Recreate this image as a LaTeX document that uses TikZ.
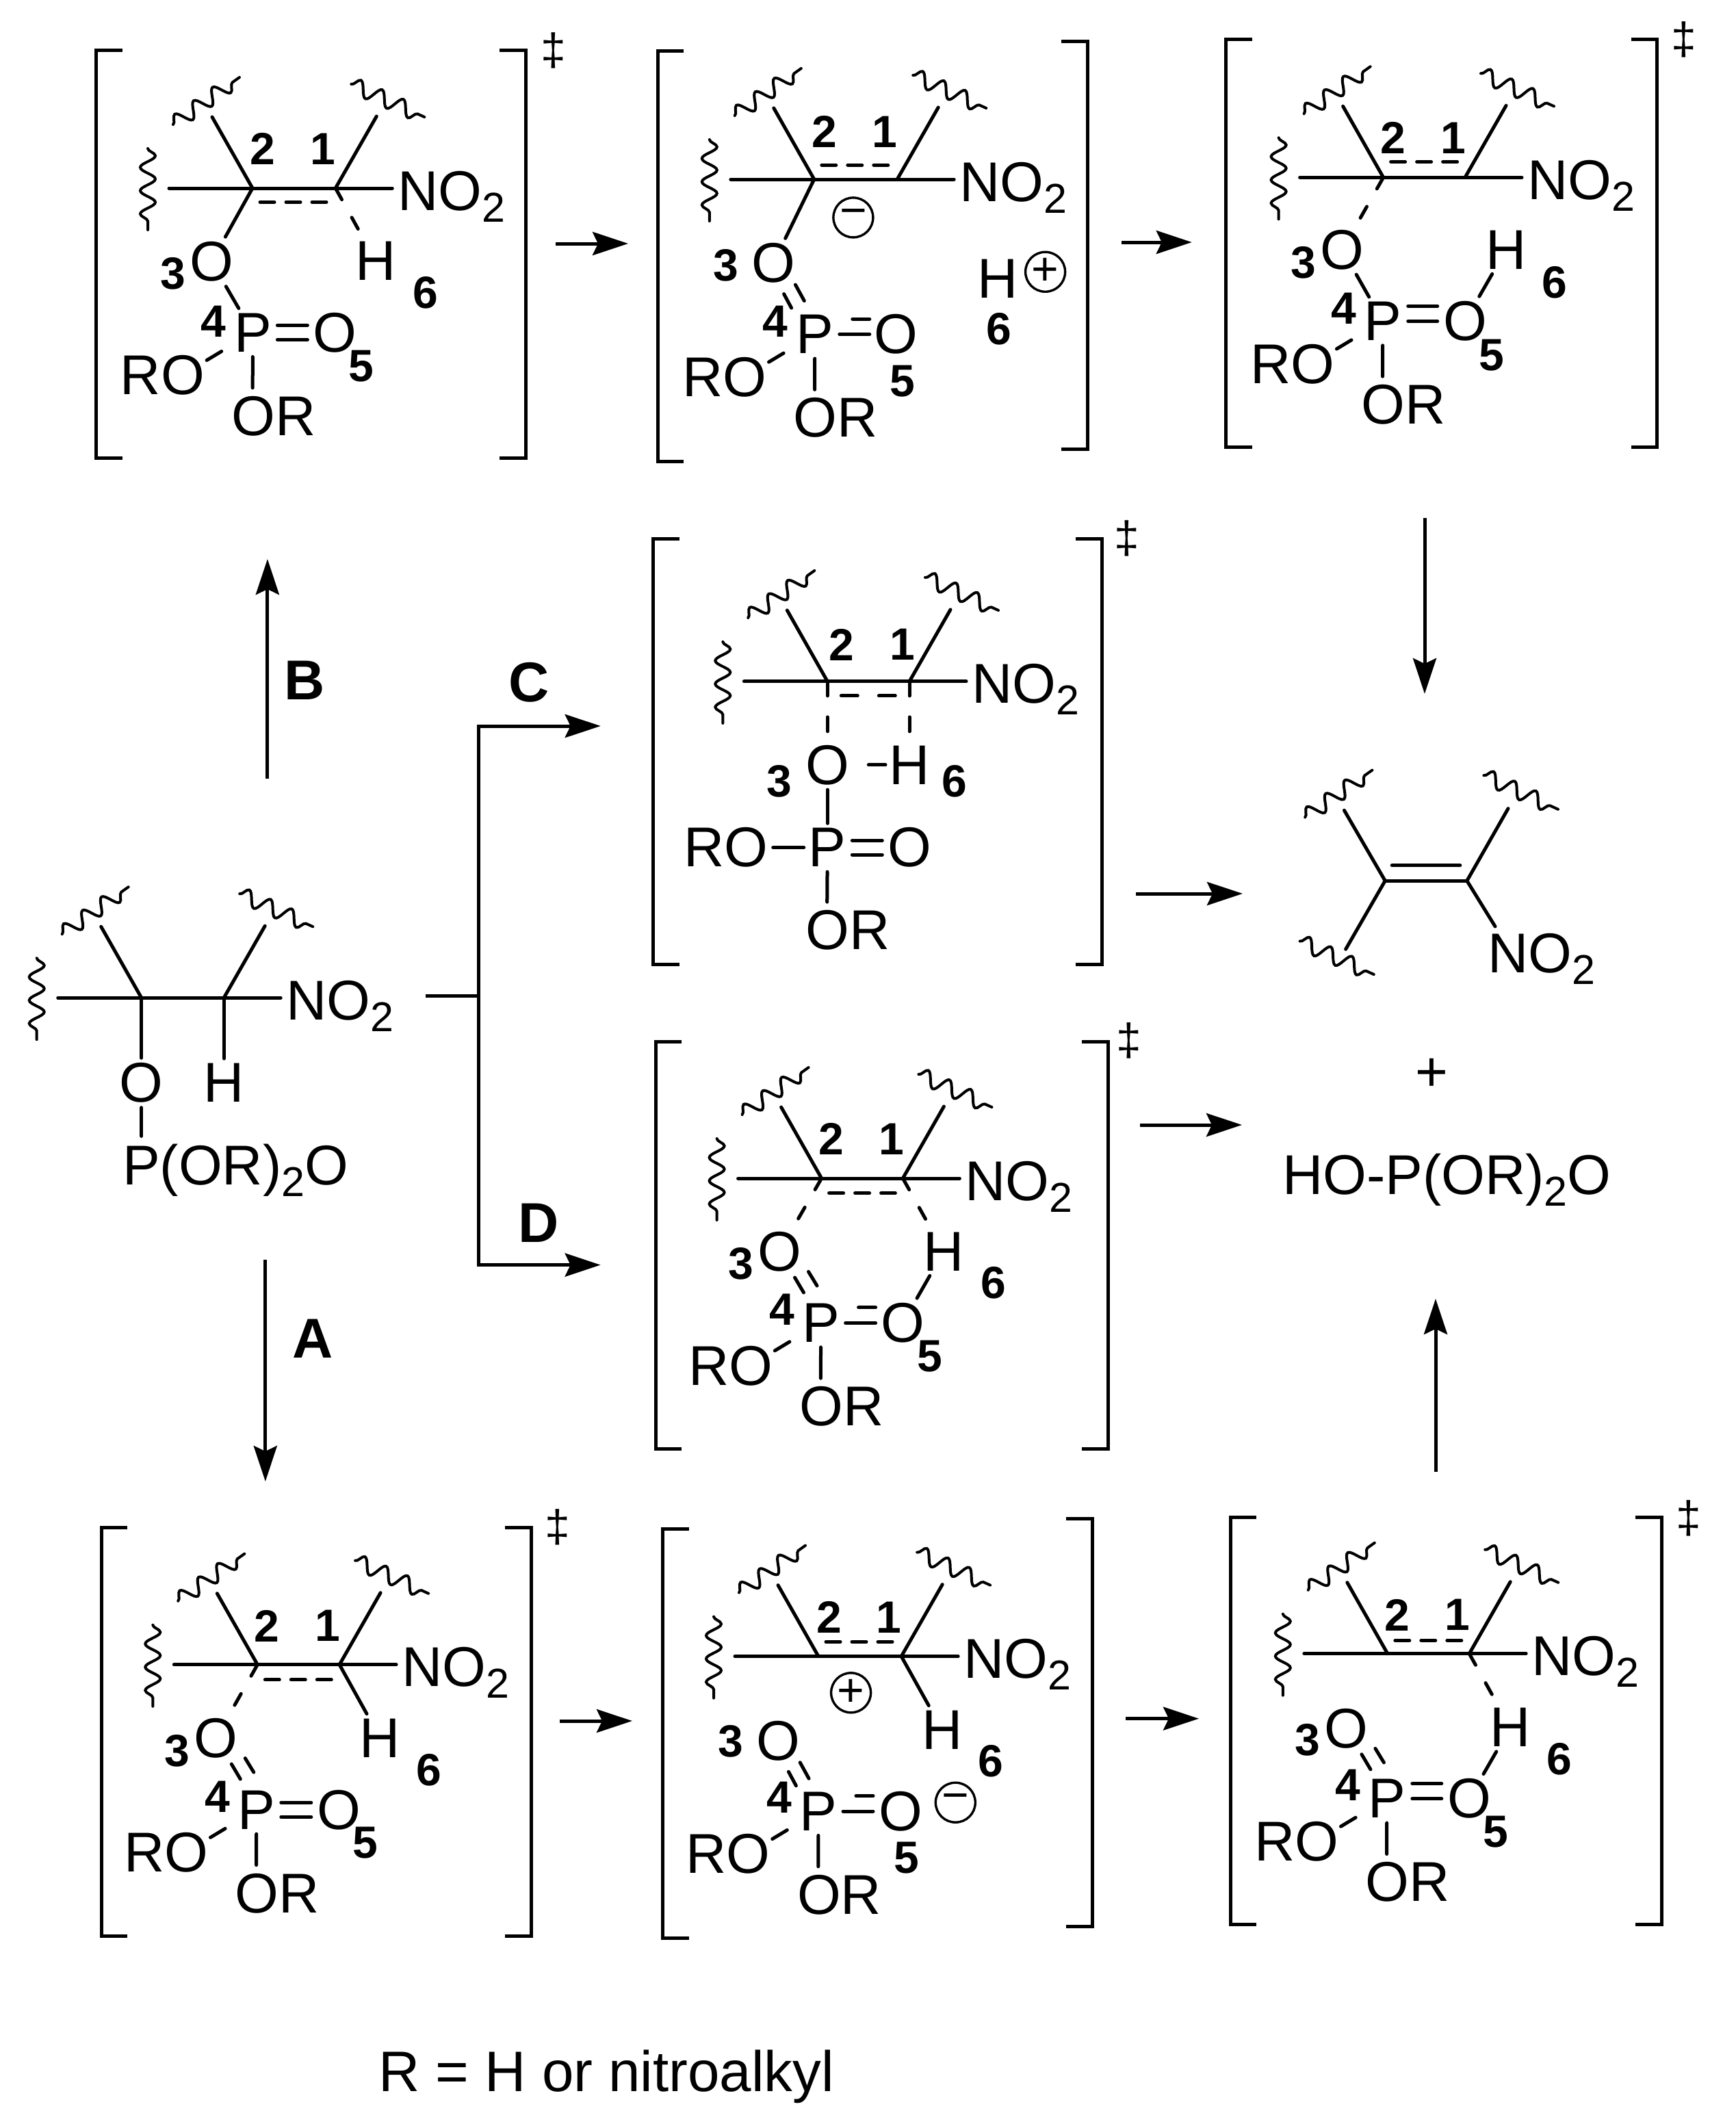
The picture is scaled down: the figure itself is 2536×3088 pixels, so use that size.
\documentclass[tikz,border=0pt]{standalone}
\usepackage{fontspec}
\setmainfont{Liberation Sans}
\usetikzlibrary{calc,arrows.meta,decorations.pathmorphing}
\newcommand{\subtwo}{\raisebox{-17pt}{\fontsize{61}{61}\selectfont 2}}
\tikzset{
  x=1pt,y=-1pt,
  bond/.style={line width=5pt,line cap=round,line join=miter},
  dbond/.style={bond,dash pattern=on 19pt off 30pt},
  tridash/.style={bond,dash pattern=on 21pt off 17pt},
  wavy/.style={line width=4pt,line cap=round,decorate,decoration={snake,segment length=34pt,amplitude=11pt}},
  brk/.style={line width=5pt,line cap=butt,line join=miter},
  arr/.style={line width=5pt,-{Stealth[length=52pt,width=34pt,inset=8pt]}},
  txt/.style={inner sep=0pt,font=\fontsize{82}{90}\selectfont},
  atom/.style={inner sep=7pt,yshift=-2pt,font=\fontsize{82}{90}\selectfont},
  num/.style={inner sep=0pt,font=\fontsize{66}{70}\selectfont\bfseries},
  let/.style={inner sep=0pt,font=\fontsize{82}{90}\selectfont\bfseries},
  dag/.style={inner sep=0pt,font=\fontsize{66}{70}\selectfont},
  chg/.style={circle,draw,line width=3.4pt,minimum size=58pt,inner sep=0pt,yshift=-3pt,font=\fontsize{68}{70}\selectfont},
}
\newcommand{\skel}[4]{%
  \coordinate (#1c2) at (#2,#4);
  \coordinate (#1c1) at (#3,#4);
  \coordinate (#1l) at ($(#1c2)+(-122,0)$);
  \coordinate (#1r) at ($(#1c1)+(83,0)$);
  \draw[bond] (#1l) -- (#1r);
  \draw[bond] (#1c2) -- ++(-59,-104);
  \draw[bond] (#1c1) -- ++(60,-105);
  \draw[wavy] ($(#1c2)+(-153,-58)$) -- ++(0,119);
  \draw[wavy] ($(#1c2)+(-116,-93)$) -- ++(97,-69);
  \draw[wavy] ($(#1c1)+(23,-152)$) -- ++(107,48);
  \node[txt,anchor=base west] (#1no) at ($(#1c1)+(91,32)$) {NO\subtwo};
}
\newcommand{\pgrp}[3]{%
  \node[atom] (#1p) at (#2,#3) {P};
  \node[atom] (#1ro) at ($(#1p)+(-132,60.5)$) {RO};
  \node[atom] (#1or) at ($(#1p)+(30.5,120)$) {OR};
  \draw[bond,shorten <=13pt] (#1p) -- ($(#1ro.east)+(-4,-22)$);
  \draw[bond] (#1p) -- ($(#1or.north west)+(38,-5)$);
}
\newcommand{\tri}[2]{\draw[tridash] ($(#1c2)+(11,#2)$) -- ($(#1c1)+(-11,#2)$);}
\newcommand{\dsym}[1]{%
  \draw[bond] ($(#1p)+(36,-10.5)$) -- ($(#1p)+(80,-10.5)$);
  \draw[bond] ($(#1p)+(36,10.5)$) -- ($(#1p)+(80,10.5)$);}
\newcommand{\dll}[1]{%
  \draw[bond] ($(#1p)+(37,-22)$) -- ($(#1p)+(80,-22)$);
  \draw[bond] ($(#1p)+(37,0)$) -- ($(#1p)+(80,0)$);}
\newcommand{\dls}[1]{%
  \draw[bond] ($(#1p)+(36,0)$) -- ($(#1p)+(80,0)$);
  \draw[bond] ($(#1p)+(55,-22.5)$) -- ($(#1p)+(80,-22.5)$);}
\newcommand{\dopa}[1]{%
  \draw[bond] ($(#1o3)+(22.5,38)$) -- ($(#1o3)+(35.5,60)$);
  \draw[bond] ($(#1o3)+(42.5,29.5)$) -- ($(#1o3)+(55,50)$);}
\newcommand{\dopb}[1]{%
  \draw[bond] ($(#1o3)+(15.5,45)$) -- ($(#1o3)+(26.5,65.5)$);
  \draw[bond] ($(#1o3)+(32.3,31.5)$) -- ($(#1o3)+(45.2,55)$);}
\newcommand{\lab}[4]{\node[num] (#1n#2) at (#3,#4) {#2};}
\newcommand{\brk}[7]{%
  \draw[brk] ({#2+38},#3) -- (#2,#3) -- (#2,#4) -- ({#2+38},#4);
  \draw[brk] ({#5-38},#6) -- (#5,#6) -- (#5,#7) -- ({#5-38},#7);}
\begin{document}
\begin{tikzpicture}
\useasboundingbox (0,0) rectangle (2536,3088);
\fill[white] (0,0) rectangle (2536,3088);

% ---------- TS1 top left
\skel{t1}{369}{490.3}{275}
\node[atom] (t1o3) at (309.2,380.4) {O};
\node[atom] (t1h) at (549,379) {H};
\draw[bond] (t1c2) -- (t1o3);
\draw[dbond] (t1c1) -- (t1h);
\tri{t1}{20.4}
\pgrp{t1}{369.4}{484}
\node[atom] (t1o5) at (489.3,484) {O};
\draw[bond] (t1o3) -- (t1p);
\dsym{t1}
\lab{t1}{2}{384.2}{217.3}\lab{t1}{1}{471.4}{217.3}\lab{t1}{3}{253}{399.9}
\lab{t1}{4}{311.7}{470.2}\lab{t1}{5}{527.6}{535.2}\lab{t1}{6}{621.4}{428}
\brk{t1}{140.8}{73.4}{669.6}{768.4}{73.4}{669.6}
\node[dag] (t1dg) at (809,73.4) {‡};

% ---------- TS2 top middle
\skel{t2}{1189.8}{1311.2}{262}
\node[atom] (t2o3) at (1130.1,382.6) {O};
\node[atom] (t2h) at (1457.7,405.1) {H};
\draw[bond] (t2c2) -- (t2o3);
\tri{t2}{-20.8}
\pgrp{t2}{1190.8}{486.6}
\node[atom] (t2o5) at (1309.7,486.6) {O};
\dls{t2}
\dopb{t2}
\node[chg] (t2minus) at (1246.9,314.9) {−};
\node[chg] (t2plus) at (1527.6,394.3) {+};
\lab{t2}{2}{1205.1}{192.6}\lab{t2}{1}{1292.9}{192.6}\lab{t2}{3}{1061.2}{387.8}
\lab{t2}{4}{1132.7}{469.3}\lab{t2}{5}{1318.4}{556.9}\lab{t2}{6}{1460.2}{481}
\brk{t2}{961.2}{74.7}{674}{1589.3}{60.4}{656.6}

% ---------- TS3 top right
\skel{t3}{2021.6}{2141}{259.3}
\node[atom] (t3o3) at (1961.7,363) {O};
\node[atom] (t3h) at (2201,363) {H};
\draw[dbond] (t3c2) -- (t3o3);
\tri{t3}{-22.7}
\pgrp{t3}{2020.7}{467.4}
\node[atom] (t3o5) at (2141,467.4) {O};
\draw[bond] (t3o3) -- (t3p);
\draw[bond] (t3h) -- (t3o5);
\dll{t3}
\lab{t3}{2}{2035.8}{201.7}\lab{t3}{1}{2123.6}{201.7}\lab{t3}{3}{1905}{383.4}
\lab{t3}{4}{1964}{450.4}\lab{t3}{5}{2180.2}{518.8}\lab{t3}{6}{2272.2}{412.6}
\brk{t3}{1791.8}{57.8}{653.8}{2421.8}{57.8}{653.8}
\node[dag] (t3dg) at (2461,57.8) {‡};

% ---------- Starting material
\skel{s}{206.7}{327.2}{1458.2}
\node[atom] (so) at (206.7,1580.4) {O};
\node[atom] (sh) at (327.2,1580.4) {H};
\node[txt,anchor=base west] (sp) at (179,1731) {P(OR)\subtwo O};
\draw[bond] (sc2) -- (so);
\draw[bond] (sc1) -- (sh);
\draw[bond] (so) -- ($(sp.north west)+(27.7,-11)$);

% ---------- TS C
\skel{c}{1209.3}{1329}{995.9}
\node[atom] (co3) at (1209.3,1115.9) {O};
\node[atom] (ch) at (1329,1115.9) {H};
\node[atom] (cp) at (1209.3,1236.7) {P};
\node[atom] (co5) at (1329,1236.7) {O};
\node[atom] (cro) at (1061,1236.7) {RO};
\node[atom] (cor) at (1239.4,1357.4) {OR};
\draw[bond,dash pattern=on 21pt off 31pt] (cc2) -- (co3);
\draw[bond,dash pattern=on 21pt off 31pt] (cc1) -- (ch);
\draw[bond,dash pattern=on 24pt off 31pt] ($(cc2)+(20,21)$) -- ($(cc1)+(-19,21)$);
\draw[bond] ($(co3)+(60,0)$) -- ($(ch)+(-35,0)$);
\draw[bond] (co3) -- (cp);
\draw[bond] (cro) -- (cp);
\draw[bond] (cp) -- ($(cor.north west)+(38,-5)$);
\dsym{c}
\lab{c}{2}{1230.2}{942}\lab{c}{1}{1318.4}{942}\lab{c}{3}{1139}{1142}\lab{c}{6}{1395}{1142}
\brk{c}{954.8}{787}{1409}{1610}{787}{1409}
\node[dag] (cdg) at (1646.6,787) {‡};

% ---------- TS D
\skel{d}{1200.6}{1319.4}{1722}
\node[atom] (do3) at (1139,1827) {O};
\node[atom] (dh) at (1379,1827) {H};
\draw[dbond] (dc2) -- (do3);
\draw[dbond] (dc1) -- (dh);
\tri{d}{21.7}
\pgrp{d}{1199.6}{1931.4}
\node[atom] (do5) at (1319.4,1931.4) {O};
\draw[bond] (dh) -- (do5);
\dls{d}
\dopa{d}
\lab{d}{2}{1215}{1664.9}\lab{d}{1}{1302.9}{1664.9}\lab{d}{3}{1083.3}{1846.5}
\lab{d}{4}{1142.4}{1913.9}\lab{d}{5}{1358.6}{1982.4}\lab{d}{6}{1451.7}{1875.1}
\brk{d}{958.2}{1522}{2117}{1619}{1522}{2117}
\node[dag] (ddg) at (1649.5,1521) {‡};

% ---------- Product
\coordinate (pl) at (2024.2,1287.2);
\coordinate (pr) at (2143.8,1287.2);
\coordinate (pa) at (1964.4,1184.2);
\coordinate (pb) at (2204,1181.6);
\coordinate (pc) at (1966.6,1387.2);
\node[txt,anchor=base west] (pno) at (2174,1421.4) {NO\subtwo};
\draw[bond] (pl) -- (pr);
\draw[bond] ($(pl)+(10,-22.4)$) -- ($(pr)+(-10,-22.4)$);
\draw[bond] (pl) -- (pa);
\draw[bond] (pr) -- (pb);
\draw[bond] (pl) -- (pc);
\draw[bond] (pr) -- ($(pno.north west)+(11,-10)$);
\draw[wavy] (1907.2,1194.4) -- (2005.4,1125.5);
\draw[wavy] (2168.4,1133.2) -- (2276.9,1182.7);
\draw[wavy] (1899.6,1375.5) -- (2007.7,1424);
\node[txt] (pplus) at (2092.5,1571) {+};
\node[txt,anchor=base west] (phop) at (1874,1745) {HO-P(OR)\subtwo O};

% ---------- TS7 bottom left
\skel{b1}{376.3}{496.1}{2432.7}
\node[atom] (b1o3) at (315.8,2538) {O};
\node[atom] (b1h) at (555.6,2538) {H};
\draw[dbond] (b1c2) -- (b1o3);
\draw[bond] (b1c1) -- (b1h);
\tri{b1}{22.2}
\pgrp{b1}{374.8}{2642.8}
\node[atom] (b1o5) at (495.2,2642.8) {O};
\dsym{b1}
\dopa{b1}
\lab{b1}{2}{389.9}{2376.1}\lab{b1}{1}{478.7}{2376.1}\lab{b1}{3}{259.2}{2558.3}
\lab{b1}{4}{318.2}{2625.3}\lab{b1}{5}{534.3}{2692.8}\lab{b1}{6}{627.3}{2586.6}
\brk{b1}{148.3}{2232.2}{2829.2}{776}{2232.2}{2829.2}
\node[dag] (b1dg) at (815.1,2232.2) {‡};

% ---------- TS8 bottom middle
\skel{b2}{1196}{1317.2}{2420.6}
\node[atom] (b2o3) at (1136.9,2542.2) {O};
\node[atom] (b2h) at (1376.9,2525.9) {H};
\draw[bond] (b2c1) -- (b2h);
\tri{b2}{-21.2}
\pgrp{b2}{1196}{2645}
\node[atom] (b2o5) at (1316.3,2645) {O};
\dls{b2}
\dopb{b2}
\node[chg] (b2plus) at (1243.6,2470.8) {+};
\node[chg] (b2minus) at (1396.3,2631.2) {−};
\lab{b2}{2}{1212}{2363.9}\lab{b2}{1}{1299.3}{2363.9}\lab{b2}{3}{1067.6}{2545.1}
\lab{b2}{4}{1139.3}{2626.7}\lab{b2}{5}{1324.5}{2714.9}\lab{b2}{6}{1448.1}{2574.1}
\brk{b2}{968.7}{2234.9}{2832}{1596}{2219}{2815.7}

% ---------- TS9 bottom right
\skel{b3}{2027.8}{2147.2}{2416.7}
\node[atom] (b3o3) at (1967.4,2523.8) {O};
\node[atom] (b3h) at (2207.1,2522.4) {H};
\draw[dbond] (b3c1) -- (b3h);
\tri{b3}{-19.3}
\pgrp{b3}{2026.8}{2626.7}
\node[atom] (b3o5) at (2147.2,2626.7) {O};
\draw[bond] (b3h) -- (b3o5);
\dll{b3}
\dopa{b3}
\lab{b3}{2}{2041.9}{2360}\lab{b3}{1}{2130.2}{2360}\lab{b3}{3}{1910.7}{2542.7}
\lab{b3}{4}{1969.7}{2608.8}\lab{b3}{5}{2185.8}{2677.2}\lab{b3}{6}{2279.3}{2571}
\brk{b3}{1798}{2217}{2812.6}{2428}{2217}{2812.6}
\node[dag] (b3dg) at (2467.6,2219) {‡};

% ---------- Reaction arrows
\coordinate (a1s) at (811.7,356); \coordinate (a1e) at (918,356);
\coordinate (a2s) at (1638.8,354); \coordinate (a2e) at (1741.8,354);
\coordinate (a3s) at (2082,757); \coordinate (a3e) at (2082,1014);
\coordinate (a4s) at (1660,1306); \coordinate (a4e) at (1816,1306);
\coordinate (a5s) at (1666,1644); \coordinate (a5e) at (1815,1644);
\coordinate (a6s) at (2098,2151); \coordinate (a6e) at (2098,1898);
\coordinate (a7s) at (817.5,2515); \coordinate (a7e) at (924,2515);
\coordinate (a8s) at (1645,2511.6); \coordinate (a8e) at (1752,2511.6);
\coordinate (bs) at (390.9,1138); \coordinate (be) at (390.9,817);
\coordinate (as) at (387.8,1841); \coordinate (ae) at (387.8,2165);
\coordinate (fork) at (622,1455); \coordinate (spine) at (699.7,1455);
\coordinate (ctop) at (699.7,1061); \coordinate (dbot) at (699.7,1848.6);
\coordinate (ce) at (877.7,1061); \coordinate (de) at (877.7,1848.6);
\draw[arr] (a1s) -- (a1e);
\draw[arr] (a2s) -- (a2e);
\draw[arr] (a3s) -- (a3e);
\draw[arr] (a4s) -- (a4e);
\draw[arr] (a5s) -- (a5e);
\draw[arr] (a6s) -- (a6e);
\draw[arr] (a7s) -- (a7e);
\draw[arr] (a8s) -- (a8e);
\draw[arr] (bs) -- (be);
\draw[arr] (as) -- (ae);
\draw[line width=5pt] (fork) -- (spine);
\draw[arr] (spine) -- (ctop) -- (ce);
\draw[arr] (spine) -- (dbot) -- (de);
\node[let] (lb) at (445.2,994.6) {B};
\node[let] (lc) at (773.2,997) {C};
\node[let] (ld) at (787,1787.3) {D};
\node[let] (la) at (456.7,1956.4) {A};
\node[inner sep=0pt,anchor=base west,font=\fontsize{83.5}{90}\selectfont] (note) at (553,3056) {R = H or nitroalkyl};
\end{tikzpicture}
\end{document}
